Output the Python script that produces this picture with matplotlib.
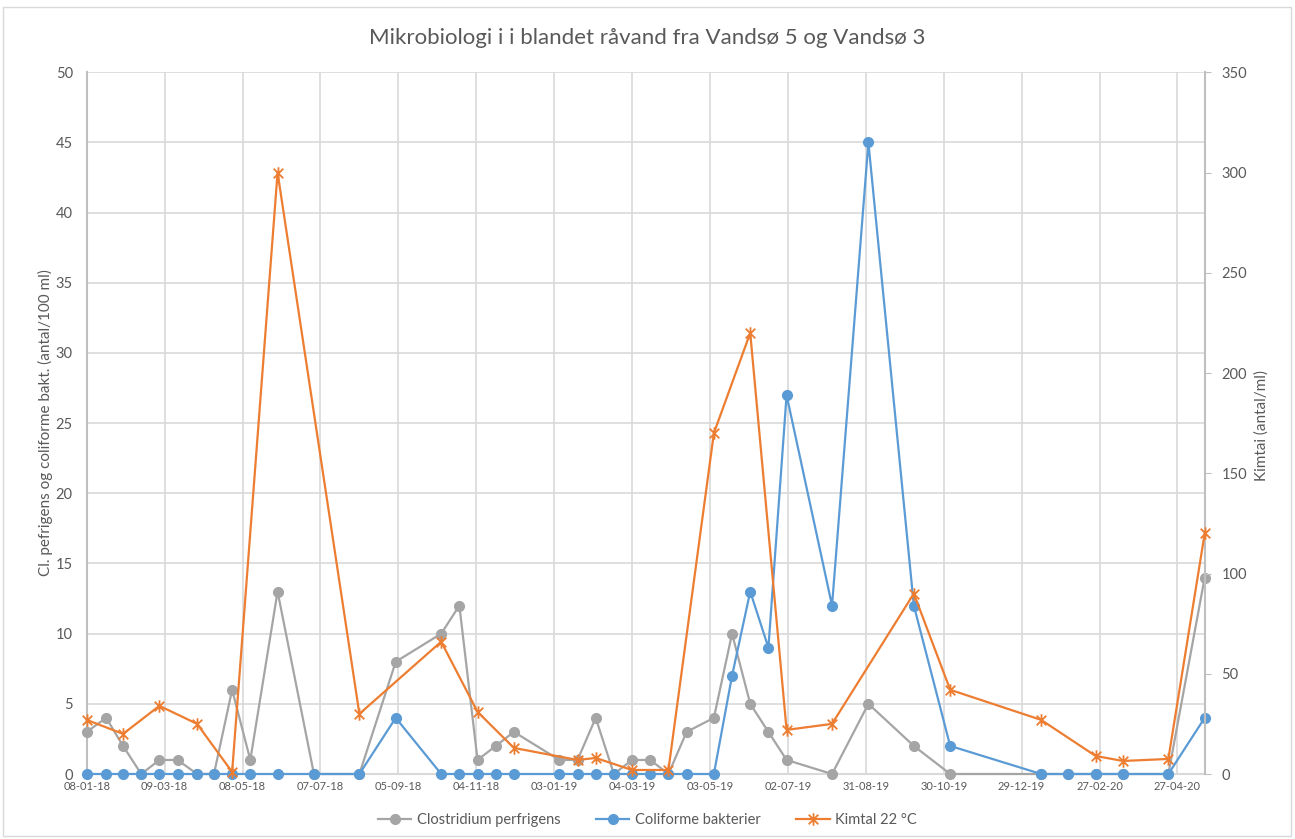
import datetime as dt
import matplotlib
matplotlib.use('Agg')
import matplotlib.pyplot as plt
import matplotlib.dates as mdates
from matplotlib.path import Path
from matplotlib.patches import Rectangle
import numpy as np

dates = ['2018-01-08', '2018-01-23', '2018-02-05', '2018-02-19', '2018-03-05', '2018-03-19',
         '2018-04-03', '2018-04-16', '2018-04-30', '2018-05-14', '2018-06-04', '2018-07-02',
         '2018-08-06', '2018-09-03', '2018-10-08', '2018-10-22', '2018-11-05', '2018-11-19',
         '2018-12-03', '2019-01-07', '2019-01-21', '2019-02-04', '2019-02-18', '2019-03-04',
         '2019-03-18', '2019-04-01', '2019-04-15', '2019-05-06', '2019-05-20', '2019-06-03',
         '2019-06-17', '2019-07-01', '2019-08-05', '2019-09-02', '2019-10-07', '2019-11-04',
         '2020-01-13', '2020-02-03', '2020-02-24', '2020-03-16', '2020-04-20', '2020-05-18']

clostridium = [3, 4, 2, 0, 1, 1, 0, 0, 6, 1, 13, 0, 0, 8, 10, 12, 1, 2, 3, 1, 1, 4, 0, 1,
               1, 0, 3, 4, 10, 5, 3, 1, 0, 5, 2, 0, 0, 0, 0, 0, 0, 14]

coliforme = [0, 0, 0, 0, 0, 0, 0, 0, 0, 0, 0, 0, 0, 4, 0, 0, 0, 0, 0, 0, 0, 0, 0, 0,
             0, 0, 0, 0, 7, 13, 9, 27, 12, 45, 12, 2, 0, 0, 0, 0, 0, 4]

nan = np.nan
kimtal = [27, nan, 20, nan, 34, nan, 25, nan, 1, nan, 300, nan, 30, nan, 66, nan, 31, nan,
          13, nan, 7, 8, nan, 2, nan, 2, nan, 170, nan, 220, nan, 22, 25, nan, 90, 42,
          27, nan, 9, 6.5, 7.5, 120]

tick_start = '2018-01-08'
tick_step_days = 60
n_ticks = 15

GRAY = '#A5A5A5'
BLUE = '#5B9BD5'
ORANGE = '#ED7D31'
TXT = '#595959'

plt.rcParams['font.family'] = ['Lato', 'DejaVu Sans']

x = [dt.datetime.strptime(d, '%Y-%m-%d') for d in dates]
kx = [xi for xi, k in zip(x, kimtal) if not np.isnan(k)]
ky = [k for k in kimtal if not np.isnan(k)]

# star marker like excel: X with a vertical bar
star = Path([(-1, -1), (1, 1), (-1, 1), (1, -1), (0, -1.3), (0, 1.3)],
            [Path.MOVETO, Path.LINETO, Path.MOVETO, Path.LINETO, Path.MOVETO, Path.LINETO])

fig = plt.figure(figsize=(12.95, 8.39), dpi=100)
fig.patches.append(Rectangle((3 / 1295, 3 / 839), 1288 / 1295, 829 / 839, transform=fig.transFigure,
                             fill=False, edgecolor='#D9D9D9', lw=1))

ax = fig.add_axes([86.7 / 1295, 1 - 774 / 839, (1204.7 - 86.7) / 1295, (774 - 72.3) / 839])
ax2 = ax.twinx()

l1, = ax.plot(x, clostridium, color=GRAY, lw=1.6, marker='o', ms=7, label='Clostridium perfrigens',
              zorder=3, clip_on=False)
l2, = ax.plot(x, coliforme, color=BLUE, lw=1.6, marker='o', ms=7, label='Coliforme bakterier',
              zorder=4, clip_on=False)
l3, = ax2.plot(kx, ky, color=ORANGE, lw=1.6, marker=star, ms=9, mew=1.3, label='Kimtal 22 °C',
               zorder=5, clip_on=False)

ax.set_xlim(x[0], x[-1])
ax.set_ylim(0, 50)
ax2.set_ylim(0, 350)
ax.set_yticks(range(0, 51, 5))
ax2.set_yticks(range(0, 351, 50))

t0 = dt.datetime.strptime(tick_start, '%Y-%m-%d')
ticks = [t0 + dt.timedelta(days=tick_step_days * i) for i in range(n_ticks)]
ax.set_xticks(ticks)
ax.xaxis.set_major_formatter(mdates.DateFormatter('%d-%m-%y'))

ax.grid(True, color='#D9D9D9', lw=1.2)
ax.set_axisbelow(True)

for s in ['top', 'right']:
    ax.spines[s].set_visible(False)
for s in ['top', 'left', 'bottom']:
    ax2.spines[s].set_visible(False)
ax.spines['left'].set_color('#BFBFBF')
ax.spines['left'].set_linewidth(1.5)
ax.spines['bottom'].set_color('#D9D9D9')
ax.spines['bottom'].set_linewidth(1.5)
ax2.spines['right'].set_color('#BFBFBF')
ax2.spines['right'].set_linewidth(1.5)

ax.tick_params(axis='y', length=0, pad=10, labelsize=10.5, labelcolor=TXT)
ax.tick_params(axis='x', length=0, pad=5, labelsize=8, labelcolor=TXT)
ax2.tick_params(axis='y', length=4, color='#BFBFBF', pad=8, labelsize=10.5, labelcolor=TXT)

fig.text(0.5, 1 - 38 / 839, 'Mikrobiologi i i blandet råvand fra Vandsø 5 og Vandsø 3',
         ha='center', va='center', fontsize=16, color=TXT)
fig.text(45 / 1295, 1 - 423 / 839, 'Cl. pefrigens og coliforme bakt. (antal/100 ml)',
         ha='center', va='center', rotation=90, fontsize=11, color=TXT)
fig.text(1262 / 1295, 1 - 425 / 839, 'Kimtai (antal/ml)',
         ha='center', va='center', rotation=90, fontsize=11, color=TXT)

fig.legend(handles=[l1, l2, l3], loc='center', bbox_to_anchor=(0.5, 1 - 820 / 839), ncol=3,
           frameon=False, fontsize=10.5, labelcolor=TXT, handlelength=2.3, handletextpad=0.4,
           columnspacing=2.4)

fig.savefig('out.png', dpi=100)
